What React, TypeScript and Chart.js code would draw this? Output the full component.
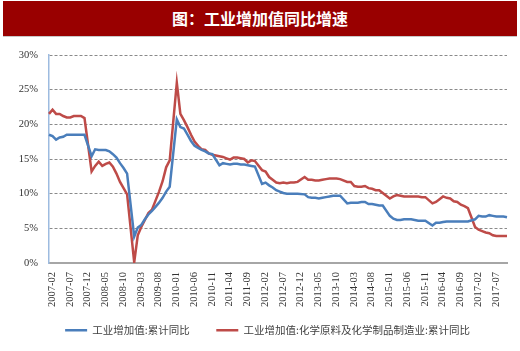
import React, { useEffect, useRef } from 'react';
import { Chart, registerables } from 'chart.js';

Chart.register(...registerables);

// Category axis: monthly, 2007-02 .. 2017-11 (January has no separate release)
const firstYear = 2007;
const lastYear = 2017;
const lastMonth = 11;
const categories: string[] = [];
for (let y = firstYear; y <= lastYear; y++) {
  for (let m = 1; m <= 12; m++) {
    if (y === firstYear && m === 1) continue;
    if (y === lastYear && m > lastMonth) break;
    categories.push(`${y}-${String(m).padStart(2, '0')}`);
  }
}

// 工业增加值:累计同比 (Feb..Dec each year)
const ind2007 = [18.5, 18.3, 17.8, 18.1, 18.2, 18.5, 18.5, 18.5, 18.5, 18.5, 18.5];
const ind2008 = [15.4, 16.4, 16.3, 16.3, 16.3, 16.1, 15.7, 15.2, 14.4, 13.7, 12.9];
const ind2009 = [3.8, 5.1, 5.5, 6.3, 7.0, 7.5, 8.1, 8.7, 9.4, 10.3, 11.0];
const ind2010 = [20.7, 19.6, 19.4, 18.5, 17.6, 16.9, 16.6, 16.3, 16.1, 15.8, 15.7];
const ind2011 = [14.1, 14.4, 14.3, 14.2, 14.3, 14.3, 14.2, 14.2, 14.1, 14.0, 13.9];
const ind2012 = [11.4, 11.6, 11.2, 10.9, 10.5, 10.3, 10.1, 10.0, 10.0, 10.0, 10.0];
const ind2013 = [9.9, 9.5, 9.4, 9.4, 9.3, 9.4, 9.5, 9.6, 9.7, 9.7, 9.7];
const ind2014 = [8.6, 8.7, 8.7, 8.7, 8.8, 8.8, 8.5, 8.5, 8.4, 8.3, 8.3];
const ind2015 = [6.8, 6.4, 6.2, 6.2, 6.3, 6.3, 6.3, 6.2, 6.1, 6.1, 6.1];
const ind2016 = [5.4, 5.8, 5.8, 5.9, 6.0, 6.0, 6.0, 6.0, 6.0, 6.0, 6.0];
const ind2017 = [6.3, 6.8, 6.7, 6.7, 6.9, 6.8, 6.7, 6.7, 6.7, 6.6];

// 工业增加值:化学原料及化学制品制造业:累计同比 (Feb..Dec each year)
const chem2007 = [21.5, 22.1, 21.5, 21.5, 21.2, 21.0, 21.0, 21.2, 21.2, 21.2, 20.9];
const chem2008 = [13.2, 14.0, 14.6, 14.0, 14.3, 14.5, 13.9, 12.9, 11.7, 10.8, 9.9];
const chem2009 = [0.1, 4.0, 5.2, 6.2, 7.2, 7.7, 9.0, 10.3, 11.8, 13.8, 14.8];
const chem2010 = [26.0, 21.5, 20.6, 19.6, 18.5, 17.5, 16.9, 16.4, 16.3, 15.8, 15.6];
const chem2011 = [15.4, 15.3, 15.1, 14.9, 15.2, 15.2, 15.1, 15.0, 14.5, 14.8, 14.7];
const chem2012 = [13.4, 13.2, 12.4, 12.0, 11.6, 11.5, 11.6, 11.5, 11.6, 11.6, 11.7];
const chem2013 = [12.4, 12.0, 12.0, 11.9, 11.9, 12.0, 12.1, 12.2, 12.2, 12.2, 12.1];
const chem2014 = [11.7, 11.7, 11.1, 11.0, 11.0, 11.1, 10.8, 10.7, 10.5, 10.5, 10.1];
const chem2015 = [9.3, 9.6, 9.8, 9.7, 9.6, 9.6, 9.6, 9.6, 9.6, 9.5, 9.5];
const chem2016 = [8.6, 8.8, 9.2, 9.6, 9.4, 9.3, 8.9, 8.8, 8.4, 8.2, 7.9];
const chem2017 = [5.2, 4.8, 4.6, 4.4, 4.3, 4.0, 3.9, 3.9, 3.9, 3.9];

const yTicks = [0, 5, 10, 15, 20, 25, 30];

const seriesNames = ['工业增加值:累计同比', '工业增加值:化学原料及化学制品制造业:累计同比'];
const titleText = '图：工业增加值同比增速';

const joinYears = (years: number[][]) => {
  const out: (number | null)[] = [];
  years.forEach((arr, k) => {
    if (k > 0) out.push(null); // January
    out.push(...arr);
  });
  return out;
};

const indSeries = joinYears([ind2007, ind2008, ind2009, ind2010, ind2011, ind2012, ind2013, ind2014, ind2015, ind2016, ind2017]);
const chemSeries = joinYears([chem2007, chem2008, chem2009, chem2010, chem2011, chem2012, chem2013, chem2014, chem2015, chem2016, chem2017]);

// shifts the bottom legend row sideways to sit where the original one does
const legendShift = {
  id: 'legendShift',
  afterLayout(chart: any) {
    const lg = chart.legend;
    if (lg) {
      lg.left += 14;
      lg.right += 14;
    }
  },
};

export default function App() {
  const ref = useRef<HTMLCanvasElement | null>(null);

  useEffect(() => {
    if (!ref.current) return;
    const serif = "'Liberation Serif', 'Times New Roman', serif";
    const chart = new Chart(ref.current, {
      type: 'line',
      data: {
        labels: categories,
        datasets: [
          {
            label: seriesNames[0],
            data: indSeries,
            borderColor: '#4A7EBB',
            backgroundColor: '#4A7EBB',
            borderWidth: 2.5,
            pointRadius: 0,
            tension: 0,
            spanGaps: true,
          },
          {
            label: seriesNames[1],
            data: chemSeries,
            borderColor: '#BE4B48',
            backgroundColor: '#BE4B48',
            borderWidth: 2.5,
            pointRadius: 0,
            tension: 0,
            spanGaps: true,
          },
        ],
      },
      plugins: [legendShift],
      options: {
        animation: false,
        responsive: false,
        maintainAspectRatio: false,
        layout: { padding: { left: 0, right: 13, top: 18, bottom: 5.5 } },
        plugins: {
          tooltip: { enabled: false },
          title: { display: false },
          legend: {
            display: true,
            position: 'bottom',
            labels: {
              usePointStyle: true,
              pointStyle: 'line',
              pointStyleWidth: 22,
              padding: 16,
              color: '#404040',
              font: { family: "'Noto Sans CJK SC', sans-serif", size: 10.5 },
              generateLabels: (ch: any) => {
                const items = Chart.defaults.plugins.legend.labels.generateLabels(ch);
                if (items[0]) items[0].text = items[0].text + '\u3000';
                return items;
              },
            },
          },
        },
        scales: {
          x: {
            type: 'category',
            offset: false,
            grid: { display: false, drawTicks: false },
            border: { display: true, color: '#A6A6A6', width: 2 },
            afterFit: (scale: any) => {
              scale.height = 46;
              scale.paddingLeft = 0;
              scale.paddingRight = 0;
            },
            ticks: {
              autoSkip: false,
              maxRotation: 90,
              minRotation: 90,
              padding: 9,
              labelOffset: 3,
              color: '#333',
              font: { family: serif, size: 10.5 },
              callback: function (this: any, val: any, index: number) {
                return index % 5 === 0 ? this.getLabelForValue(val) : '';
              },
            },
          },
          y: {
            min: yTicks[0],
            max: yTicks[yTicks.length - 1],
            afterFit: (scale: any) => {
              scale.width = 49;
              scale.paddingTop = 0;
              scale.paddingBottom = 0;
            },
            afterBuildTicks: (scale: any) => {
              scale.ticks = yTicks.map((v) => ({ value: v }));
            },
            grid: {
              drawTicks: false,
              color: (ctx: any) => (ctx.tick && ctx.tick.value === 0 ? 'rgba(0,0,0,0)' : '#8A8A8A'),
              lineWidth: 1,
            },
            border: { display: true, color: '#9DBBE0', width: 1.5, dash: [3, 2] },
            ticks: {
              padding: 11,
              color: '#333',
              font: { family: serif, size: 10.5 },
              callback: (v: any) => `${v}%`,
            },
          },
        },
      } as any,
    });
    return () => chart.destroy();
  }, []);

  return (
    <div
      style={{
        position: 'absolute',
        left: 0,
        top: 0,
        width: 520,
        height: 351,
        background: '#fff',
        overflow: 'hidden',
      }}
    >
      <div
        style={{
          position: 'absolute',
          left: 3,
          top: 1,
          width: 514,
          height: 35,
          background: '#990000',
          borderBottom: '1px solid #c8c8c8',
          color: '#fff',
          fontFamily: "'Noto Sans CJK SC', sans-serif",
          fontWeight: 700,
          fontSize: 16,
          lineHeight: '35px',
          textAlign: 'center',
        }}
      >
        {titleText}
      </div>
      <canvas
        ref={ref}
        width={520}
        height={314}
        style={{ position: 'absolute', left: 0, top: 37, width: 520, height: 314 }}
      />
    </div>
  );
}
